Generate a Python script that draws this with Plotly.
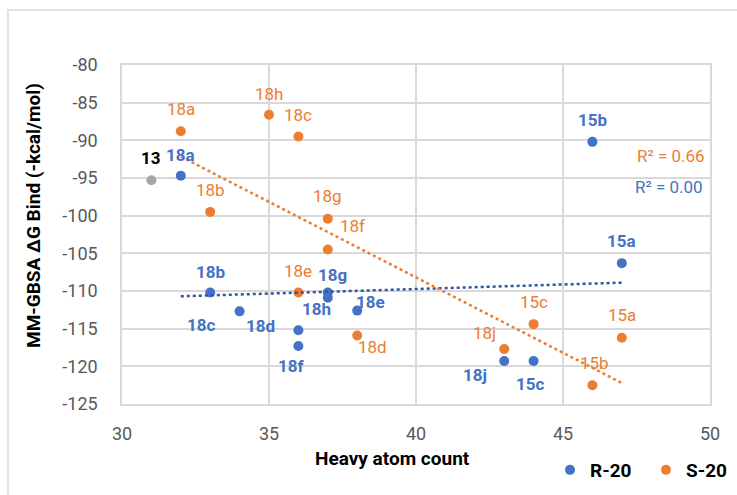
import numpy as np
import plotly.graph_objects as go

# Heavy atom count vs MM-GBSA binding energy
r_labels = ["18a", "15b", "15a", "18b", "18c", "18d", "18f", "18g", "18h", "18e", "18j", "15c"]
r_x = [32, 46, 47, 33, 34, 36, 36, 37, 37, 38, 43, 44]
r_y = [-94.7, -90.2, -106.3, -110.2, -112.7, -115.2, -117.3, -110.2, -110.9, -112.6, -119.3, -119.3]

s_labels = ["18a", "18h", "18c", "18b", "18g", "18f", "18e", "18d", "15c", "15a", "18j", "15b"]
s_x = [32, 35, 36, 33, 37, 37, 36, 38, 44, 47, 43, 46]
s_y = [-88.8, -86.6, -89.5, -99.5, -100.4, -104.5, -110.2, -115.9, -114.4, -116.2, -117.7, -122.5]

ref_label = "13"
ref_x = [31]
ref_y = [-95.3]

r_r2_text = "R² = 0.00"
s_r2_text = "R² = 0.66"

x_ticks = [30, 35, 40, 45, 50]
x_ticktext = ["30", "35", "40", "45", "50"]
y_ticks = [-80, -85, -90, -95, -100, -105, -110, -115, -120, -125]
y_ticktext = ["-80", "-85", "-90", "-95", "-100", "-105", "-110", "-115", "-120", "-125"]

# label offsets in pixels (dx, dy) for each data label
r_offsets = [(0, -21), (0, -22), (0, -22), (0, -21), (-38, 14), (-38, -4), (-7, 20),
             (5, -18), (-11, 11), (13, -9), (-29, 14), (-3, 23)]
s_offsets = [(0, -22), (0, -21), (0, -22), (0, -22), (0, -23), (25, -24), (0, -22),
             (15, 12), (0, -22), (0, -23), (-20, -16), (2, -22)]

BLUE = "#4472C4"
ORANGE = "#ED7D31"
GREY = "#A5A5A5"
FONT = "Roboto"

fig = go.Figure()

fig.add_trace(go.Scatter(x=ref_x, y=ref_y, mode="markers", showlegend=False,
                         marker=dict(color=GREY, size=10), hoverinfo="skip"))
fig.add_trace(go.Scatter(x=r_x, y=r_y, mode="markers", name="R-20", legend="legend",
                         marker=dict(color=BLUE, size=10)))
fig.add_trace(go.Scatter(x=s_x, y=s_y, mode="markers", name="S-20", legend="legend2",
                         marker=dict(color=ORANGE, size=10)))

# linear trendlines
for xs, ys, col in [(r_x, r_y, "#2F55A4"), (s_x, s_y, ORANGE)]:
    k, b = np.polyfit(xs, ys, 1)
    tx = np.array([min(xs), max(xs)], dtype=float)
    fig.add_trace(go.Scatter(x=tx, y=k * tx + b, mode="lines", showlegend=False,
                             line=dict(color=col, width=2.5, dash="dot"), hoverinfo="skip"))

annotations = []
for lab, x, y, (dx, dy) in zip(r_labels, r_x, r_y, r_offsets):
    annotations.append(dict(x=x, y=y, text="<b>%s</b>" % lab, showarrow=False,
                            xshift=dx, yshift=-dy,
                            font=dict(family=FONT, size=17, color=BLUE)))
for lab, x, y, (dx, dy) in zip(s_labels, s_x, s_y, s_offsets):
    annotations.append(dict(x=x, y=y, text=lab, showarrow=False,
                            xshift=dx, yshift=-dy,
                            font=dict(family=FONT, size=17, color=ORANGE)))
annotations.append(dict(x=ref_x[0], y=ref_y[0], text="<b>%s</b>" % ref_label, showarrow=False,
                        yshift=22, font=dict(family=FONT, size=17, color="#000000")))

# R² labels
annotations.append(dict(xref="paper", yref="paper", x=(707 - 122) / 588, y=(404 - 156) / 339,
                        xanchor="right", yanchor="middle", text=s_r2_text, showarrow=False,
                        font=dict(family=FONT, size=17, color=ORANGE)))
annotations.append(dict(xref="paper", yref="paper", x=(705 - 122) / 588, y=(404 - 187) / 339,
                        xanchor="right", yanchor="middle", text=r_r2_text, showarrow=False,
                        font=dict(family=FONT, size=17, color=BLUE)))

# axis titles
annotations.append(dict(xref="paper", yref="paper", x=(392 - 122) / 588, y=(404 - 458) / 339,
                        xanchor="center", yanchor="middle", text="<b>Heavy atom count</b>",
                        showarrow=False, font=dict(family=FONT, size=19, color="#000000")))
annotations.append(dict(xref="paper", yref="paper", x=(34 - 122) / 588, y=(404 - 216) / 339,
                        xanchor="center", yanchor="middle", text="<b>MM-GBSA ΔG Bind (-kcal/mol)</b>",
                        textangle=-90, showarrow=False,
                        font=dict(family=FONT, size=19, color="#000000")))

legend_font = dict(family=FONT, size=19, color="#000000", weight="bold")
fig.update_layout(
    width=737, height=495,
    margin=dict(l=122, r=27, t=65, b=91, autoexpand=False),
    paper_bgcolor="white", plot_bgcolor="white",
    font=dict(family=FONT, size=18, color="#595959"),
    annotations=annotations,
    showlegend=True,
    legend=dict(orientation="h", x=(550 - 122) / 588, xanchor="left",
                y=(404 - 470) / 339, yanchor="middle",
                font=legend_font, bgcolor="rgba(0,0,0,0)", itemwidth=30),
    legend2=dict(orientation="h", x=(646 - 122) / 588, xanchor="left",
                 y=(404 - 470) / 339, yanchor="middle",
                 font=legend_font, bgcolor="rgba(0,0,0,0)", itemwidth=30),
    shapes=[dict(type="rect", xref="paper", yref="paper",
                 x0=(8 - 122) / 588, x1=(745 - 122) / 588,
                 y0=(404 - 505) / 339, y1=(404 - 10) / 339,
                 line=dict(color="#D9D9D9", width=1.5), fillcolor="rgba(0,0,0,0)", layer="below")],
)

fig.update_xaxes(range=[30, 50], tickvals=x_ticks, ticktext=x_ticktext,
                 showgrid=True, gridcolor="#D9D9D9", gridwidth=1.5,
                 showline=True, linecolor="#D9D9D9", linewidth=1.5, mirror=True,
                 zeroline=False, ticks="", ticklabelstandoff=13,
                 tickfont=dict(family=FONT, size=18, color="#595959"))
fig.update_yaxes(range=[-125, -80], tickvals=y_ticks, ticktext=y_ticktext,
                 showgrid=True, gridcolor="#D9D9D9", gridwidth=1.5,
                 showline=True, linecolor="#D9D9D9", linewidth=1.5, mirror=True,
                 zeroline=False, ticks="", ticklabelstandoff=19,
                 tickfont=dict(family=FONT, size=18, color="#595959"))

fig.write_html("out.html")
